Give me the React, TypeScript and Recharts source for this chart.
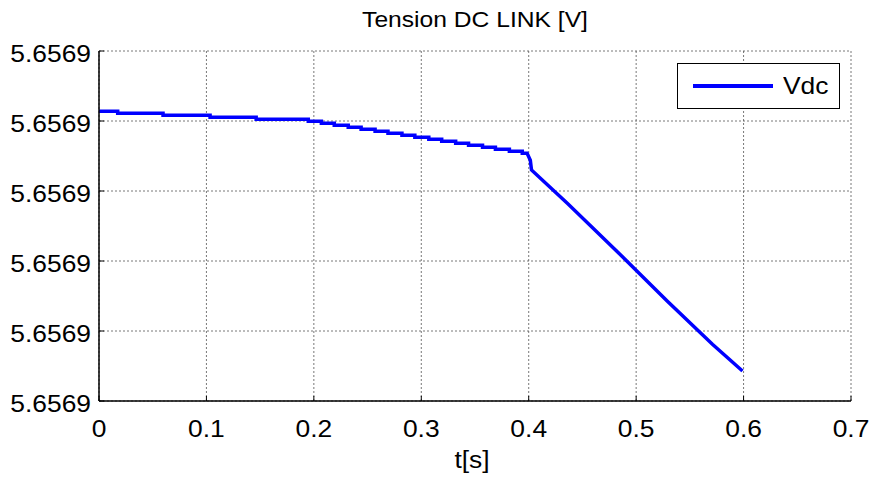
import React from 'react';
import { LineChart, Line, XAxis, YAxis, CartesianGrid } from 'recharts';

// staircase part of Vdc (normalised units, one grid step = 1)
const stepT = [0, 0.0174, 0.0596, 0.1034, 0.1463, 0.1948, 0.207, 0.219, 0.232, 0.244, 0.257, 0.269, 0.282, 0.294, 0.307, 0.319, 0.332, 0.344, 0.357, 0.369, 0.382, 0.394];
const stepV = [4.139, 4.11, 4.081, 4.053, 4.024, 3.996, 3.967, 3.939, 3.91, 3.881, 3.853, 3.824, 3.796, 3.767, 3.739, 3.71, 3.681, 3.653, 3.624, 3.596, 3.567, 3.539];
// drop after t = 0.4
const rampT = [0.3985, 0.4015, 0.4026, 0.4359, 0.4825, 0.5291, 0.571, 0.599];
const rampV = [3.539, 3.44, 3.3, 2.824, 2.133, 1.424, 0.81, 0.429];

const xTicks = [0, 0.1, 0.2, 0.3, 0.4, 0.5, 0.6, 0.7];
const yTicks = [0, 1, 2, 3, 4, 5];
const yLabel = '5.6569';

const data: { t: number; v: number }[] = [];
stepT.forEach((t, i) => {
  data.push({ t, v: stepV[i] });
  const next = i + 1 < stepT.length ? stepT[i + 1] : rampT[0];
  data.push({ t: next, v: stepV[i] });
});
rampT.forEach((t, i) => data.push({ t, v: rampV[i] }));

const FONT = '"Liberation Sans", Arial, sans-serif';
const SX = 1.1;

const BottomTick = (props: any) => {
  const { x, y, payload } = props;
  return (
    <g>
      <line x1={x} x2={x} y1={y} y2={y - 5} stroke="#000" />
      <g transform={`translate(${x},${y + 36}) scale(${SX},1)`}>
        <text x={0} y={0} textAnchor="middle" fontSize={24} fontFamily={FONT} fill="#000">
          {String(payload.value)}
        </text>
      </g>
    </g>
  );
};

const TopTick = (props: any) => {
  const { x, y } = props;
  return <line x1={x} x2={x} y1={y} y2={y + 5} stroke="#000" />;
};

const LeftTick = (props: any) => {
  const { x, y } = props;
  return (
    <g>
      <line x1={x} x2={x + 5} y1={y} y2={y} stroke="#000" />
      <g transform={`translate(${x - 8},${y + 11}) scale(${SX},1)`}>
        <text x={0} y={0} textAnchor="end" fontSize={24} fontFamily={FONT} fill="#000">
          {yLabel}
        </text>
      </g>
    </g>
  );
};

const RightTick = (props: any) => {
  const { x, y } = props;
  return <line x1={x} x2={x - 5} y1={y} y2={y} stroke="#000" />;
};

const LegendBox = () => (
  <div
    style={{
      position: 'absolute',
      left: 677,
      top: 63,
      width: 163,
      height: 46,
      border: '1px solid #000',
      background: '#fff',
      boxSizing: 'border-box',
      fontFamily: FONT,
    }}
  >
    <div style={{ position: 'absolute', left: 15, top: 20, width: 80, height: 4, background: '#0000ff' }} />
    <div
      style={{
        position: 'absolute',
        left: 105,
        top: 8,
        fontSize: 24,
        lineHeight: '28px',
        transform: `scale(${SX},1)`,
        transformOrigin: 'left center',
      }}
    >
      Vdc
    </div>
  </div>
);

export default function App() {
  return (
    <div style={{ position: 'absolute', left: 0, top: 0, width: 874, height: 482, background: '#fff' }}>
      <LineChart width={874} height={482} data={data} margin={{ top: 51, right: 23, bottom: 51, left: 0 }}>
        <CartesianGrid stroke="#555" strokeDasharray="2 2" strokeWidth={0.8} />
        <XAxis
          dataKey="t"
          type="number"
          domain={[0, 0.7]}
          ticks={xTicks}
          height={30}
          tickSize={0}
          tickMargin={0}
          tick={<BottomTick />}
          axisLine={{ stroke: '#000', strokeWidth: 1.5 }}
          tickLine={false}
          interval={0}
        />
        <XAxis
          xAxisId="top"
          orientation="top"
          dataKey="t"
          type="number"
          domain={[0, 0.7]}
          ticks={xTicks}
          height={0}
          tickSize={0}
          tickMargin={0}
          tick={<TopTick />}
          axisLine={{ stroke: '#000', strokeWidth: 1 }}
          tickLine={false}
          interval={0}
        />
        <YAxis
          type="number"
          domain={[0, 5]}
          ticks={yTicks}
          width={99}
          tickSize={0}
          tickMargin={0}
          tick={<LeftTick />}
          axisLine={{ stroke: '#000', strokeWidth: 1.5 }}
          tickLine={false}
          interval={0}
        />
        <YAxis
          yAxisId="right"
          orientation="right"
          type="number"
          domain={[0, 5]}
          ticks={yTicks}
          width={0}
          tickSize={0}
          tickMargin={0}
          tick={<RightTick />}
          axisLine={{ stroke: '#000', strokeWidth: 1 }}
          tickLine={false}
          interval={0}
        />
        <Line
          type="linear"
          dataKey="v"
          name="Vdc"
          stroke="#0000ff"
          strokeWidth={3.5}
          dot={false}
          isAnimationActive={false}
        />
      </LineChart>
      <LegendBox />
      <svg
        width={874}
        height={482}
        style={{ position: 'absolute', left: 0, top: 0, pointerEvents: 'none' }}
      >
        <g transform={`translate(475,27) scale(1.12,1)`}>
          <text x={0} y={0} textAnchor="middle" fontSize={22} fontFamily={FONT} fill="#000">
            Tension DC LINK [V]
          </text>
        </g>
        <g transform={`translate(472,468) scale(${SX},1)`}>
          <text x={0} y={0} textAnchor="middle" fontSize={24} fontFamily={FONT} fill="#000">
            t[s]
          </text>
        </g>
      </svg>
    </div>
  );
}
